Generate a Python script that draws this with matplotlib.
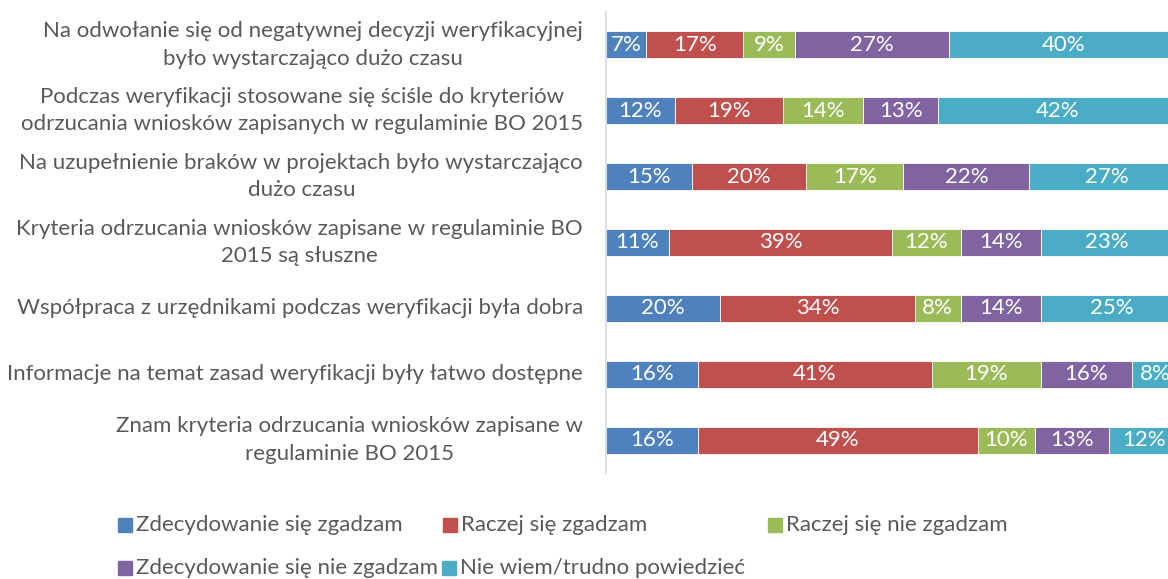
import matplotlib
matplotlib.use("Agg")
import matplotlib.pyplot as plt
from matplotlib.patches import Rectangle
import numpy as np

plt.rcParams['font.family'] = ['Lato', 'DejaVu Sans']

categories = [
    "Na odwołanie się od negatywnej decyzji weryfikacyjnej\nbyło wystarczająco dużo czasu",
    "Podczas weryfikacji stosowane się ściśle do kryteriów\nodrzucania wniosków zapisanych w regulaminie BO 2015",
    "Na uzupełnienie braków w projektach było wystarczająco\ndużo czasu",
    "Kryteria odrzucania wniosków zapisane w regulaminie BO\n2015 są słuszne",
    "Współpraca z urzędnikami podczas weryfikacji była dobra",
    "Informacje na temat zasad weryfikacji były łatwo dostępne",
    "Znam kryteria odrzucania wniosków zapisane w\nregulaminie BO 2015",
]
series_names = [
    "Zdecydowanie się zgadzam",
    "Raczej się zgadzam",
    "Raczej się nie zgadzam",
    "Zdecydowanie się nie zgadzam",
    "Nie wiem/trudno powiedzieć",
]
zdecydowanie_tak = [7, 12, 15, 11, 20, 16, 16]
raczej_tak = [17, 19, 20, 39, 34, 41, 49]
raczej_nie = [9, 14, 17, 12, 8, 19, 10]
zdecydowanie_nie = [27, 13, 22, 14, 14, 16, 13]
nie_wiem = [40, 42, 27, 23, 25, 8, 12]
series = [zdecydowanie_tak, raczej_tak, raczej_nie, zdecydowanie_nie, nie_wiem]
colors = ["#4F81BD", "#C0504D", "#9BBB59", "#8064A2", "#4BACC6"]
text_color = "#595959"

W, H = 1168, 579
fig = plt.figure(figsize=(W / 100, H / 100), dpi=100)
ax = fig.add_axes([606 / W, 1 - 473 / H, 572 / W, 461 / H])

y = np.arange(len(categories))
left = np.zeros(len(categories))
for vals, c in zip(series, colors):
    vals = np.array(vals, dtype=float)
    ax.barh(y, vals, left=left, height=0.41, color=c, edgecolor="white", linewidth=0.6)
    for yi, l, v in zip(y, left, vals):
        ax.text(l + v / 2, yi, f"{int(v)}%", ha="center", va="center",
                color="white", fontsize=16)
    left += vals

ax.set_xlim(0, 100)
ax.set_ylim(len(categories) - 0.5, -0.5)
ax.set_xticks([])
ax.set_yticks([])
for s in ["top", "right", "bottom"]:
    ax.spines[s].set_visible(False)
ax.spines["left"].set_color("#D9D9D9")
ax.spines["left"].set_linewidth(1.2)

for yi, cat in zip(y, categories):
    ax.text(-0.04, yi, cat, transform=ax.get_yaxis_transform(), ha="right", va="center",
            multialignment="center", color=text_color, fontsize=16, linespacing=1.45)

# legend (manual placement matching the reference layout)
legend_pos = [(118, 525), (443, 525), (768, 525), (118, 568), (442, 568)]
for (lx, ly), name, c in zip(legend_pos, series_names, colors):
    fig.patches.append(Rectangle((lx / W, 1 - (ly + 7) / H), 14 / W, 14 / H,
                                 transform=fig.transFigure, color=c, figure=fig))
    fig.text((lx + 18) / W, 1 - ly / H, name, ha="left", va="center",
             color=text_color, fontsize=16)

fig.savefig("out.png", dpi=100)
